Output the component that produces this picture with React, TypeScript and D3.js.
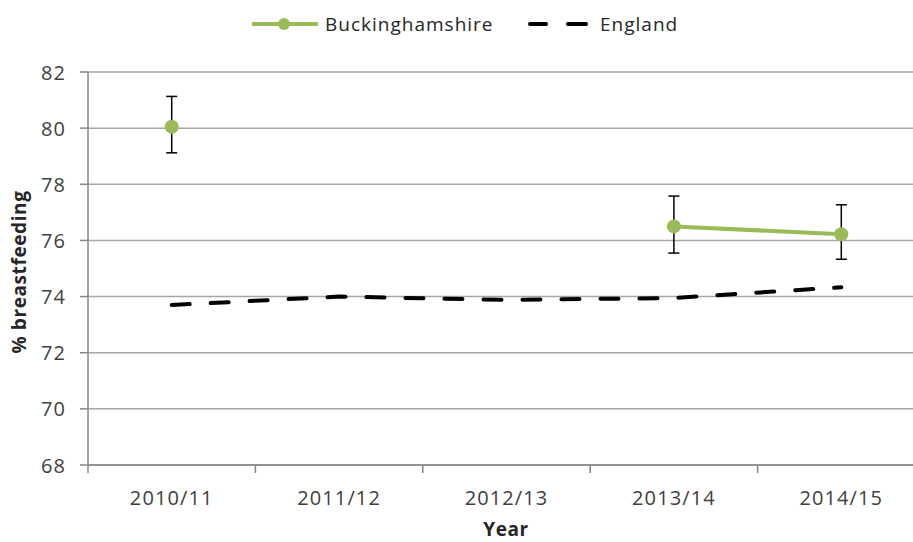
import React from "react";
import * as d3 from "d3";

const categories = ["2010/11", "2011/12", "2012/13", "2013/14", "2014/15"];
const buckValues: (number | null)[] = [80.05, null, null, 76.5, 76.22];
const buckLower: (number | null)[] = [79.12, null, null, 75.55, 75.33];
const buckUpper: (number | null)[] = [81.13, null, null, 77.58, 77.27];
const englandValues = [73.7, 74.0, 73.88, 73.95, 74.33];
const yTicks = [68, 70, 72, 74, 76, 78, 80, 82];

const W = 913;
const H = 542;
const left = 88;
const right = 925;
const top = 72;
const bottom = 465;
const GREEN = "#9BBB59";
const FONT = "'Open Sans', 'Liberation Sans', sans-serif";

export default function App() {
  const x = d3.scaleBand<string>().domain(categories).range([left, right]);
  const y = d3.scaleLinear().domain([68, 82]).range([bottom, top]);
  const cx = (c: string) => (x(c) as number) + x.bandwidth() / 2;

  const buckLine = d3
    .line<number | null>()
    .defined((d) => d !== null)
    .x((_, i) => cx(categories[i]))
    .y((d) => y(d as number));

  const engLine = d3
    .line<number>()
    .x((_, i) => cx(categories[i]))
    .y((d) => y(d));

  return (
    <svg width={W} height={H} style={{ position: "absolute", left: 0, top: 0, background: "#fff" }}>
      {/* grid */}
      {yTicks.map((t) => (
        <g key={t}>
          <line x1={left} x2={right} y1={y(t)} y2={y(t)} stroke="#A6A6A6" strokeWidth={1.5} />
          <line x1={80} x2={left} y1={y(t)} y2={y(t)} stroke="#868686" strokeWidth={1.5} />
          <text x={66} y={y(t)} textAnchor="end" dominantBaseline="central" fontFamily={FONT} fontSize={20} letterSpacing={1.1} fill="#404040">
            {t}
          </text>
        </g>
      ))}
      {/* axes */}
      <line x1={left} x2={left} y1={top} y2={bottom + 8} stroke="#868686" strokeWidth={1.5} />
      <line x1={left} x2={right} y1={bottom} y2={bottom} stroke="#868686" strokeWidth={1.5} />
      {categories.map((c) => (
        <g key={c}>
          <line x1={(x(c) as number) + x.bandwidth()} x2={(x(c) as number) + x.bandwidth()} y1={bottom} y2={bottom + 8} stroke="#868686" strokeWidth={1.5} />
          <text x={cx(c)} y={497} textAnchor="middle" dominantBaseline="central" fontFamily={FONT} fontSize={20} letterSpacing={1.1} fill="#404040">
            {c}
          </text>
        </g>
      ))}
      {/* England dashed */}
      <path d={engLine(englandValues) || ""} fill="none" stroke="#000" strokeWidth={4} strokeDasharray="18,21" strokeLinecap="round" />
      {/* Buckinghamshire */}
      <path d={buckLine(buckValues) || ""} fill="none" stroke={GREEN} strokeWidth={4} />
      {buckValues.map((v, i) =>
        v === null ? null : (
          <g key={i}>
            <line x1={cx(categories[i])} x2={cx(categories[i])} y1={y(buckLower[i] as number)} y2={y(buckUpper[i] as number)} stroke="#000" strokeWidth={1.5} />
            <line x1={cx(categories[i]) - 5.5} x2={cx(categories[i]) + 5.5} y1={y(buckLower[i] as number)} y2={y(buckLower[i] as number)} stroke="#000" strokeWidth={1.5} />
            <line x1={cx(categories[i]) - 5.5} x2={cx(categories[i]) + 5.5} y1={y(buckUpper[i] as number)} y2={y(buckUpper[i] as number)} stroke="#000" strokeWidth={1.5} />
            <circle cx={cx(categories[i])} cy={y(v)} r={7} fill={GREEN} />
          </g>
        )
      )}
      {/* legend */}
      <line x1={252} x2={318} y1={24} y2={24} stroke={GREEN} strokeWidth={4} />
      <circle cx={284} cy={24} r={6} fill={GREEN} />
      <text x={325} y={24} dominantBaseline="central" fontFamily={FONT} fontSize={19} letterSpacing={1} fill="#262626">
        Buckinghamshire
      </text>
      <line x1={530} x2={546} y1={24} y2={24} stroke="#000" strokeWidth={4} strokeLinecap="round" />
      <line x1={568} x2={586} y1={24} y2={24} stroke="#000" strokeWidth={4} strokeLinecap="round" />
      <text x={600} y={24} dominantBaseline="central" fontFamily={FONT} fontSize={19} letterSpacing={1} fill="#262626">
        England
      </text>
      {/* axis titles */}
      <text
        transform={`translate(19, 272) rotate(-90)`}
        textAnchor="middle"
        dominantBaseline="central"
        fontFamily={FONT}
        fontSize={19}
        letterSpacing={0.6}
        fontWeight="bold"
        fill="#262626"
      >
        % breastfeeding
      </text>
      <text x={506} y={529} textAnchor="middle" dominantBaseline="central" fontFamily={FONT} fontSize={19} letterSpacing={0.6} fontWeight="bold" fill="#262626">
        Year
      </text>
    </svg>
  );
}
